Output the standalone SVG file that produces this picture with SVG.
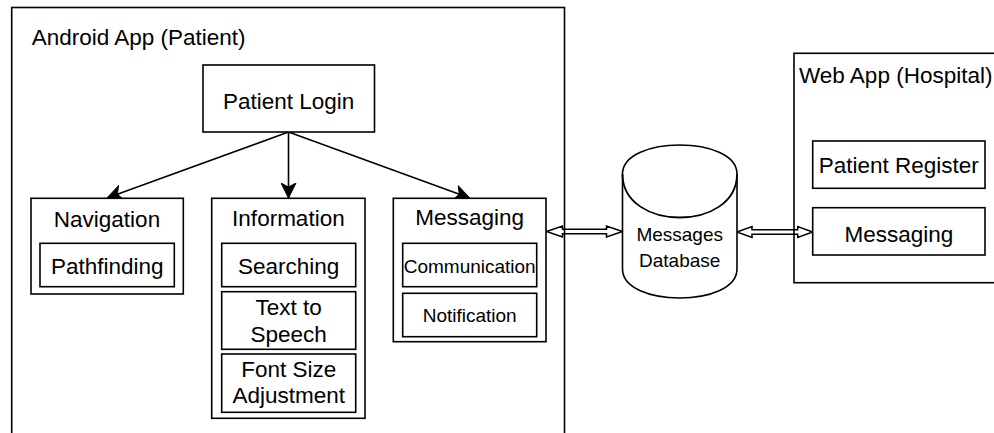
<svg xmlns="http://www.w3.org/2000/svg" width="994" height="433" viewBox="0 0 994 433">
  <defs>
    <marker id="arrow" markerUnits="userSpaceOnUse" viewBox="0 0 16 16" refX="15.5" refY="8" markerWidth="16" markerHeight="16" orient="auto">
      <path d="M0.5,0.5 L15.5,8 L0.5,15.5 L4.5,8 Z" fill="#000" stroke="#000" stroke-width="1"/>
    </marker>
  </defs>
  <style>
    .box { fill: #fff; stroke: #000; stroke-width: 1.6; }
    .frame { fill: none; stroke: #000; stroke-width: 1.6; }
    .t { font-family: "Liberation Sans", Arial, Helvetica, sans-serif; font-size: 22.5px; fill: #000; }
    .s { font-family: "Liberation Sans", Arial, Helvetica, sans-serif; font-size: 19px; fill: #000; }
    .c { text-anchor: middle; }
    .line { fill: none; stroke: #000; stroke-width: 1.6; }
    .flex { fill: #fff; stroke: #000; stroke-width: 1.5; stroke-linejoin: miter; }
  </style>

  <g id="connectors">
    <line class="line" x1="288.5" y1="132" x2="107" y2="198" marker-end="url(#arrow)"/>
    <line class="line" x1="288.5" y1="132" x2="288.5" y2="198" marker-end="url(#arrow)"/>
    <line class="line" x1="288.5" y1="132" x2="469.7" y2="198" marker-end="url(#arrow)"/>
    <polygon class="flex" points="546.5,231.5 562.5,226 562.5,229.3 606.5,229.3 606.5,226 622.5,231.5 606.5,237 606.5,233.7 562.5,233.7 562.5,237"/>
    <polygon class="flex" points="737,232 752,226.5 752,229.8 797.7,229.8 797.7,226.5 812.7,232 797.7,237.5 797.7,234.2 752,234.2 752,237.5"/>
  </g>

  <g id="android-app">
    <rect class="frame" x="11.7" y="7.5" width="552.8" height="440"/>
    <text class="t" x="31.7" y="45">Android App (Patient)</text>
  </g>

  <g id="patient-login">
    <rect class="box" x="203" y="65" width="171.5" height="67"/>
    <text class="t c" x="288.7" y="108.5">Patient Login</text>
  </g>

  <g id="navigation">
    <rect class="box" x="31" y="198.3" width="152.3" height="95.7"/>
    <text class="t c" x="107" y="226.5">Navigation</text>
    <g id="pathfinding">
      <rect class="box" x="40" y="243.3" width="134.3" height="43.4"/>
      <text class="t c" x="107.2" y="274">Pathfinding</text>
    </g>
  </g>

  <g id="information">
    <rect class="box" x="211.7" y="198.3" width="153.3" height="220"/>
    <text class="t c" x="288.4" y="226">Information</text>
    <g id="searching">
      <rect class="box" x="221.7" y="243.3" width="134" height="43.4"/>
      <text class="t c" x="288.7" y="273.5">Searching</text>
    </g>
    <g id="text-to-speech">
      <rect class="box" x="221.7" y="291.7" width="134" height="57.6"/>
      <text class="t c" x="288.7" y="315">Text to</text>
      <text class="t c" x="288.7" y="341.5">Speech</text>
    </g>
    <g id="font-size">
      <rect class="box" x="221.7" y="354" width="134" height="58.3"/>
      <text class="t c" x="288.7" y="376.7">Font Size</text>
      <text class="t c" x="288.7" y="403.3">Adjustment</text>
    </g>
  </g>

  <g id="messaging-android">
    <rect class="box" x="393.3" y="198.3" width="152.7" height="143.4"/>
    <text class="t c" x="469.7" y="225">Messaging</text>
    <g id="communication">
      <rect class="box" x="402.7" y="243.3" width="134" height="43.4"/>
      <text class="s c" x="469.7" y="272.5">Communication</text>
    </g>
    <g id="notification">
      <rect class="box" x="402.7" y="293.3" width="134" height="43.4"/>
      <text class="s c" x="469.7" y="321.5">Notification</text>
    </g>
  </g>

  <g id="messages-database">
    <path class="box" stroke-width="1.8" d="M622.5,174 C622.5,135.3 737,135.3 737,174 L737,269 C737,307.7 622.5,307.7 622.5,269 Z"/>
    <path fill="none" stroke="#000" stroke-width="1.8" d="M622.5,174 C622.5,232 737,232 737,174"/>
    <text class="s c" x="679.7" y="241">Messages</text>
    <text class="s c" x="679.7" y="266.7">Database</text>
  </g>

  <g id="web-app">
    <rect class="frame" x="794" y="53.3" width="230" height="229.4"/>
    <text class="t" x="799" y="82.7">Web App (Hospital)</text>
  </g>

  <g id="patient-register">
    <rect class="box" x="812.7" y="141" width="172.3" height="47.3"/>
    <text class="t c" x="898.8" y="173.3">Patient Register</text>
  </g>

  <g id="messaging-web">
    <rect class="box" x="812.7" y="207.7" width="172.3" height="47.3"/>
    <text class="t c" x="898.8" y="241.7">Messaging</text>
  </g>
</svg>
